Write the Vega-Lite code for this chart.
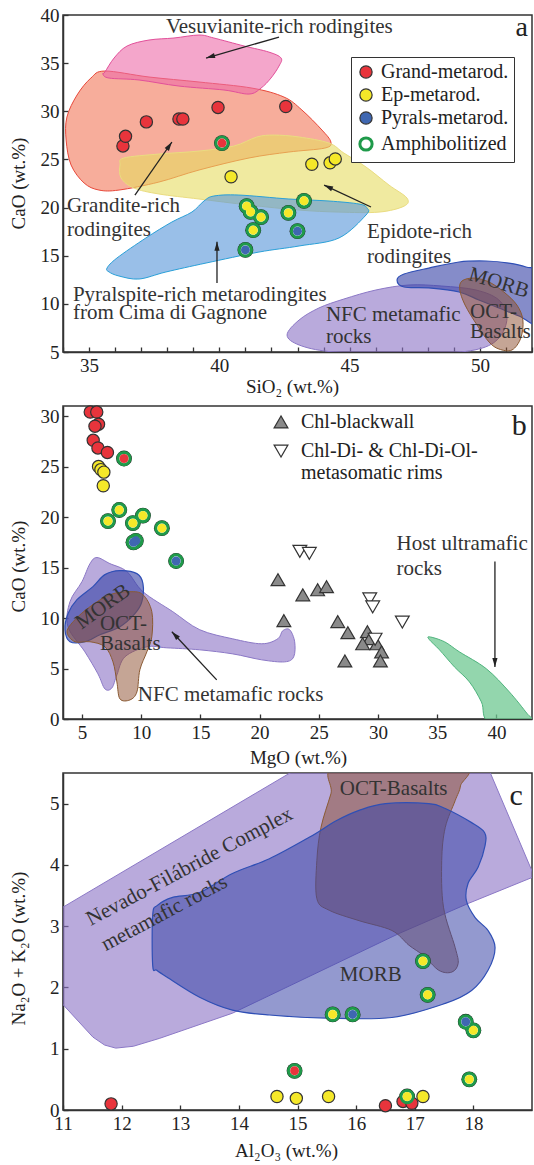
{
"$schema":"https://vega.github.io/schema/vega-lite/v6.json",
"background":"white",
"padding":{"left":8,"top":5,"right":2,"bottom":2},
"spacing":54,
"bounds":"flush",
"config":{
 "font":"Liberation Serif",
 "view":{"stroke":"#333","strokeWidth":1.5},
 "axis":{"grid":false,"domainColor":"#333","domainWidth":1.5,"tickColor":"#333","tickWidth":1.3,"tickSize":-5,"labelPadding":9,"labelFont":"Liberation Serif","labelFontSize":19,"labelColor":"#222","titleFont":"Liberation Serif","titleFontSize":19,"titleFontWeight":"normal","titleColor":"#222","labelFlush":false,"labelOverlap":false},
 "legend":{"labelFont":"Liberation Serif","labelFontSize":20,"labelColor":"#222","labelLimit":300}
},
"resolve":{"scale":{"fill":"independent","stroke":"independent","strokeWidth":"independent","color":"independent","shape":"independent"},"legend":{"fill":"independent","stroke":"independent","strokeWidth":"independent","color":"independent","shape":"independent"}},
"datasets":{
 "pa":[
  {"s":"gra","i":0,"x":35.61,"y":34.18},{"s":"gra","i":1,"x":37.3,"y":33.56},{"s":"gra","i":2,"x":39.22,"y":33.04},{"s":"gra","i":3,"x":41.25,"y":32.41},{"s":"gra","i":4,"x":42.48,"y":31.48},{"s":"gra","i":5,"x":43.17,"y":30.13},{"s":"gra","i":6,"x":43.94,"y":28.05},{"s":"gra","i":7,"x":44.28,"y":26.81},{"s":"gra","i":8,"x":44.05,"y":26.18},{"s":"gra","i":9,"x":42.67,"y":25.77},{"s":"gra","i":10,"x":41.14,"y":25.15},{"s":"gra","i":11,"x":39.22,"y":23.9},{"s":"gra","i":12,"x":37.68,"y":22.65},{"s":"gra","i":13,"x":36.15,"y":21.82},{"s":"gra","i":14,"x":35.38,"y":21.82},{"s":"gra","i":15,"x":34.81,"y":22.55},{"s":"gra","i":16,"x":34.31,"y":24.42},{"s":"gra","i":17,"x":34.12,"y":27.01},{"s":"gra","i":18,"x":34.15,"y":29.4},{"s":"gra","i":19,"x":34.54,"y":31.69},{"s":"gra","i":20,"x":35.07,"y":33.45},
  {"s":"ves","i":0,"x":35.61,"y":34.08},{"s":"ves","i":1,"x":35.96,"y":35.53},{"s":"ves","i":2,"x":36.46,"y":36.78},{"s":"ves","i":3,"x":37.3,"y":37.4},{"s":"ves","i":4,"x":38.26,"y":37.61},{"s":"ves","i":5,"x":39.22,"y":37.92},{"s":"ves","i":6,"x":39.79,"y":37.61},{"s":"ves","i":7,"x":40.95,"y":36.78},{"s":"ves","i":8,"x":41.9,"y":36.15},{"s":"ves","i":9,"x":42.37,"y":35.53},{"s":"ves","i":10,"x":42.29,"y":34.7},{"s":"ves","i":11,"x":41.98,"y":33.45},{"s":"ves","i":12,"x":41.6,"y":32.41},{"s":"ves","i":13,"x":41.14,"y":31.79},{"s":"ves","i":14,"x":40.18,"y":32.21},{"s":"ves","i":15,"x":38.45,"y":32.62},{"s":"ves","i":16,"x":36.92,"y":33.25},{"s":"ves","i":17,"x":35.77,"y":33.45},{"s":"ves","i":18,"x":35.53,"y":33.87},
  {"s":"epi","i":0,"x":36.34,"y":25.15},{"s":"epi","i":1,"x":37.68,"y":25.56},{"s":"epi","i":2,"x":39.22,"y":25.87},{"s":"epi","i":3,"x":40.56,"y":26.39},{"s":"epi","i":4,"x":41.44,"y":27.33},{"s":"epi","i":5,"x":42.1,"y":27.53},{"s":"epi","i":6,"x":43.06,"y":27.33},{"s":"epi","i":7,"x":44.21,"y":26.7},{"s":"epi","i":8,"x":44.78,"y":25.66},{"s":"epi","i":9,"x":45.63,"y":24.21},{"s":"epi","i":10,"x":46.51,"y":22.34},{"s":"epi","i":11,"x":47.2,"y":20.99},{"s":"epi","i":12,"x":47.09,"y":20.15},{"s":"epi","i":13,"x":46.13,"y":19.53},{"s":"epi","i":14,"x":44.59,"y":19.53},{"s":"epi","i":15,"x":43.06,"y":19.74},{"s":"epi","i":16,"x":41.14,"y":20.26},{"s":"epi","i":17,"x":39.22,"y":20.89},{"s":"epi","i":18,"x":37.68,"y":21.41},{"s":"epi","i":19,"x":36.72,"y":22.03},{"s":"epi","i":20,"x":36.23,"y":23.07},{"s":"epi","i":21,"x":36.19,"y":24.42},
  {"s":"pyr","i":0,"x":35.69,"y":13.72},{"s":"pyr","i":1,"x":36.07,"y":14.76},{"s":"pyr","i":2,"x":37.18,"y":16.84},{"s":"pyr","i":3,"x":38.18,"y":18.5},{"s":"pyr","i":4,"x":38.95,"y":19.54},{"s":"pyr","i":5,"x":39.41,"y":20.68},{"s":"pyr","i":6,"x":39.79,"y":21.2},{"s":"pyr","i":7,"x":40.75,"y":21.3},{"s":"pyr","i":8,"x":42.67,"y":20.89},{"s":"pyr","i":9,"x":44.21,"y":20.68},{"s":"pyr","i":10,"x":45.36,"y":20.37},{"s":"pyr","i":11,"x":45.67,"y":19.95},{"s":"pyr","i":12,"x":45.63,"y":19.23},{"s":"pyr","i":13,"x":44.59,"y":16.84},{"s":"pyr","i":14,"x":43.06,"y":16.01},{"s":"pyr","i":15,"x":41.52,"y":15.38},{"s":"pyr","i":16,"x":39.49,"y":14.24},{"s":"pyr","i":17,"x":37.95,"y":13.31},{"s":"pyr","i":18,"x":36.92,"y":12.58},{"s":"pyr","i":19,"x":36.15,"y":12.89},{"s":"pyr","i":20,"x":35.77,"y":13.31},
  {"s":"nfc","i":0,"x":42.6,"y":6.77},{"s":"nfc","i":1,"x":43.06,"y":8.32},{"s":"nfc","i":2,"x":43.82,"y":9.57},{"s":"nfc","i":3,"x":44.78,"y":10.5},{"s":"nfc","i":4,"x":46.01,"y":11.44},{"s":"nfc","i":5,"x":47.28,"y":11.96},{"s":"nfc","i":6,"x":48.54,"y":11.85},{"s":"nfc","i":7,"x":49.85,"y":11.44},{"s":"nfc","i":8,"x":50.73,"y":10.4},{"s":"nfc","i":9,"x":51.04,"y":8.53},{"s":"nfc","i":10,"x":50.73,"y":6.45},{"s":"nfc","i":11,"x":49.96,"y":5.31},{"s":"nfc","i":12,"x":48.43,"y":4.85},{"s":"nfc","i":13,"x":46.13,"y":4.85},{"s":"nfc","i":14,"x":44.21,"y":5.05},{"s":"nfc","i":15,"x":43.06,"y":5.73},
  {"s":"morb","i":0,"x":46.82,"y":12.48},{"s":"morb","i":1,"x":47.09,"y":13.1},{"s":"morb","i":2,"x":48.04,"y":13.72},{"s":"morb","i":3,"x":49.2,"y":14.35},{"s":"morb","i":4,"x":50.23,"y":14.45},{"s":"morb","i":5,"x":51.11,"y":14.24},{"s":"morb","i":6,"x":51.77,"y":13.83},{"s":"morb","i":7,"x":52.3,"y":13.1},{"s":"morb","i":8,"x":52.3,"y":8.0},{"s":"morb","i":9,"x":51.5,"y":8.74},{"s":"morb","i":10,"x":50.73,"y":9.57},{"s":"morb","i":11,"x":49.96,"y":10.4},{"s":"morb","i":12,"x":49.2,"y":11.23},{"s":"morb","i":13,"x":48.04,"y":11.65},{"s":"morb","i":14,"x":47.09,"y":11.75},
  {"s":"oct","i":0,"x":49.31,"y":12.37},{"s":"oct","i":1,"x":49.77,"y":12.68},{"s":"oct","i":2,"x":50.35,"y":12.27},{"s":"oct","i":3,"x":50.92,"y":11.23},{"s":"oct","i":4,"x":51.42,"y":9.88},{"s":"oct","i":5,"x":51.65,"y":8.32},{"s":"oct","i":6,"x":51.57,"y":6.45},{"s":"oct","i":7,"x":51.23,"y":5.21},{"s":"oct","i":8,"x":50.73,"y":5.31},{"s":"oct","i":9,"x":50.35,"y":6.04},{"s":"oct","i":10,"x":49.89,"y":7.8},{"s":"oct","i":11,"x":49.43,"y":9.88},{"s":"oct","i":12,"x":49.23,"y":11.44}
 ],
 "pta":[
  {"x":36.3,"y":26.4,"type":"Grand-metarod.","leg":"Grand-metarod."},{"x":36.4,"y":27.4,"type":"Grand-metarod.","leg":"Grand-metarod."},{"x":37.2,"y":28.9,"type":"Grand-metarod.","leg":"Grand-metarod."},{"x":38.45,"y":29.2,"type":"Grand-metarod.","leg":"Grand-metarod."},{"x":38.6,"y":29.2,"type":"Grand-metarod.","leg":"Grand-metarod."},{"x":39.95,"y":30.4,"type":"Grand-metarod.","leg":"Grand-metarod."},{"x":42.55,"y":30.5,"type":"Grand-metarod.","leg":"Grand-metarod."},
  {"x":40.1,"y":26.7,"type":"Grand-metarod.","leg":"Amphibolitized"},
  {"x":40.45,"y":23.2,"type":"Ep-metarod.","leg":"Ep-metarod."},{"x":43.55,"y":24.5,"type":"Ep-metarod.","leg":"Ep-metarod."},{"x":44.25,"y":24.65,"type":"Ep-metarod.","leg":"Ep-metarod."},{"x":44.45,"y":25.05,"type":"Ep-metarod.","leg":"Ep-metarod."},
  {"x":41.05,"y":20.15,"type":"Ep-metarod.","leg":"Amphibolitized"},{"x":41.2,"y":19.55,"type":"Ep-metarod.","leg":"Amphibolitized"},{"x":41.6,"y":19.0,"type":"Ep-metarod.","leg":"Amphibolitized"},{"x":41.3,"y":17.65,"type":"Ep-metarod.","leg":"Amphibolitized"},{"x":42.65,"y":19.45,"type":"Ep-metarod.","leg":"Amphibolitized"},{"x":43.25,"y":20.7,"type":"Ep-metarod.","leg":"Amphibolitized"},
  {"x":41.0,"y":15.6,"type":"Pyrals-metarod.","leg":"Amphibolitized"},{"x":43.0,"y":17.55,"type":"Pyrals-metarod.","leg":"Amphibolitized"}
 ],
 "ta":[
  {"k":"n","x":37.95,"y":38.75,"t":"Vesuvianite-rich rodingites"},
  {"k":"n","x":34.15,"y":20.16,"t":"Grandite-rich"},
  {"k":"n","x":34.15,"y":17.67,"t":"rodingites"},
  {"k":"n","x":45.67,"y":17.46,"t":"Epidote-rich"},
  {"k":"n","x":45.67,"y":14.86,"t":"rodingites"},
  {"k":"n","x":34.38,"y":10.92,"t":"Pyralspite-rich metarodingites"},
  {"k":"n","x":34.38,"y":9.05,"t":"from Cima di Gagnone"},
  {"k":"n","x":44.09,"y":8.84,"t":"NFC metamafic"},
  {"k":"n","x":44.09,"y":6.56,"t":"rocks"},
  {"k":"n","x":49.62,"y":9.15,"t":"OCT-"},
  {"k":"n","x":49.62,"y":7.08,"t":"Basalts"},
  {"k":"m","x":50.73,"y":12.17,"t":"MORB"},
  {"k":"p","x":51.61,"y":38.64,"t":"a"}
 ],
 "aa":[
  {"id":1,"x":42.29,"y":37.71,"x2":39.49,"y2":35.53},
  {"id":2,"x":36.76,"y":21.3,"x2":38.18,"y2":26.81},
  {"id":3,"x":45.82,"y":20.06,"x2":44.02,"y2":22.34},
  {"id":4,"x":39.91,"y":12.17,"x2":39.91,"y2":16.45}
 ],
 "pb":[
  {"s":"nfc","i":0,"x":6.27,"y":15.99},{"s":"nfc","i":1,"x":7.36,"y":15.39},{"s":"nfc","i":2,"x":8.8,"y":14.6},{"s":"nfc","i":3,"x":10.15,"y":12.61},{"s":"nfc","i":4,"x":12.67,"y":10.63},{"s":"nfc","i":5,"x":14.95,"y":8.84},{"s":"nfc","i":6,"x":17.73,"y":7.94},{"s":"nfc","i":7,"x":20.18,"y":7.45},{"s":"nfc","i":8,"x":21.53,"y":7.94},{"s":"nfc","i":9,"x":21.95,"y":8.74},{"s":"nfc","i":10,"x":22.54,"y":8.84},{"s":"nfc","i":11,"x":22.96,"y":7.65},{"s":"nfc","i":12,"x":22.88,"y":6.16},{"s":"nfc","i":13,"x":22.12,"y":5.66},{"s":"nfc","i":14,"x":20.18,"y":5.86},{"s":"nfc","i":15,"x":17.73,"y":6.45},{"s":"nfc","i":16,"x":14.95,"y":6.85},{"s":"nfc","i":17,"x":12.17,"y":7.05},{"s":"nfc","i":18,"x":10.48,"y":7.15},{"s":"nfc","i":19,"x":8.63,"y":6.16},{"s":"nfc","i":20,"x":7.95,"y":4.37},{"s":"nfc","i":21,"x":7.53,"y":3.08},{"s":"nfc","i":22,"x":6.94,"y":2.98},{"s":"nfc","i":23,"x":6.35,"y":4.47},{"s":"nfc","i":24,"x":5.25,"y":6.65},{"s":"nfc","i":25,"x":3.82,"y":9.14},{"s":"nfc","i":26,"x":3.99,"y":11.62},{"s":"nfc","i":27,"x":5.0,"y":13.6},{"s":"nfc","i":28,"x":5.68,"y":15.39},
  {"s":"morb","i":0,"x":3.57,"y":8.84},{"s":"morb","i":1,"x":3.82,"y":10.43},{"s":"morb","i":2,"x":4.58,"y":11.82},{"s":"morb","i":3,"x":5.93,"y":13.11},{"s":"morb","i":4,"x":6.94,"y":14.3},{"s":"morb","i":5,"x":8.21,"y":14.7},{"s":"morb","i":6,"x":9.64,"y":14.4},{"s":"morb","i":7,"x":10.15,"y":13.41},{"s":"morb","i":8,"x":10.06,"y":11.62},{"s":"morb","i":9,"x":9.47,"y":10.43},{"s":"morb","i":10,"x":8.21,"y":9.14},{"s":"morb","i":11,"x":6.52,"y":8.34},{"s":"morb","i":12,"x":5.25,"y":7.65},{"s":"morb","i":13,"x":3.99,"y":7.65},
  {"s":"oct","i":0,"x":3.74,"y":8.64},{"s":"oct","i":1,"x":4.41,"y":9.83},{"s":"oct","i":2,"x":5.68,"y":11.12},{"s":"oct","i":3,"x":7.36,"y":12.31},{"s":"oct","i":4,"x":9.05,"y":12.61},{"s":"oct","i":5,"x":10.15,"y":12.31},{"s":"oct","i":6,"x":10.9,"y":10.63},{"s":"oct","i":7,"x":10.9,"y":8.14},{"s":"oct","i":8,"x":10.48,"y":6.65},{"s":"oct","i":9,"x":9.89,"y":4.87},{"s":"oct","i":10,"x":9.64,"y":2.68},{"s":"oct","i":11,"x":9.05,"y":1.89},{"s":"oct","i":12,"x":8.21,"y":1.99},{"s":"oct","i":13,"x":7.95,"y":3.67},{"s":"oct","i":14,"x":7.62,"y":5.66},{"s":"oct","i":15,"x":6.94,"y":7.15},{"s":"oct","i":16,"x":5.68,"y":7.65},{"s":"oct","i":17,"x":4.41,"y":7.65},
  {"s":"host","i":0,"x":34.34,"y":8.14},{"s":"host","i":1,"x":35.61,"y":7.65},{"s":"host","i":2,"x":36.87,"y":6.65},{"s":"host","i":3,"x":39.15,"y":4.97},{"s":"host","i":4,"x":41.09,"y":2.68},{"s":"host","i":5,"x":42.61,"y":0.5},{"s":"host","i":6,"x":43.1,"y":-0.3},{"s":"host","i":7,"x":39.4,"y":-0.3},{"s":"host","i":8,"x":38.73,"y":1.69},{"s":"host","i":9,"x":37.72,"y":3.67},{"s":"host","i":10,"x":36.45,"y":5.16},{"s":"host","i":11,"x":35.19,"y":6.85},{"s":"host","i":12,"x":34.34,"y":7.85}
 ],
 "ptb":[
  {"x":5.7,"y":30.4,"type":"Grand-metarod.","leg":"Grand-metarod."},{"x":6.25,"y":30.4,"type":"Grand-metarod.","leg":"Grand-metarod."},{"x":6.4,"y":29.2,"type":"Grand-metarod.","leg":"Grand-metarod."},{"x":6.1,"y":29.0,"type":"Grand-metarod.","leg":"Grand-metarod."},{"x":5.95,"y":27.6,"type":"Grand-metarod.","leg":"Grand-metarod."},{"x":6.35,"y":26.85,"type":"Grand-metarod.","leg":"Grand-metarod."},{"x":7.15,"y":26.4,"type":"Grand-metarod.","leg":"Grand-metarod."},
  {"x":8.55,"y":25.8,"type":"Grand-metarod.","leg":"Amphibolitized"},
  {"x":6.4,"y":25.0,"type":"Ep-metarod.","leg":"Ep-metarod."},{"x":6.6,"y":24.7,"type":"Ep-metarod.","leg":"Ep-metarod."},{"x":6.85,"y":24.45,"type":"Ep-metarod.","leg":"Ep-metarod."},{"x":6.8,"y":23.1,"type":"Ep-metarod.","leg":"Ep-metarod."},
  {"x":7.2,"y":19.6,"type":"Ep-metarod.","leg":"Amphibolitized"},{"x":8.15,"y":20.7,"type":"Ep-metarod.","leg":"Amphibolitized"},{"x":9.3,"y":19.4,"type":"Ep-metarod.","leg":"Amphibolitized"},{"x":10.15,"y":20.15,"type":"Ep-metarod.","leg":"Amphibolitized"},{"x":11.75,"y":18.9,"type":"Ep-metarod.","leg":"Amphibolitized"},
  {"x":9.55,"y":17.65,"type":"Pyrals-metarod.","leg":"Amphibolitized"},{"x":9.35,"y":17.5,"type":"Pyrals-metarod.","leg":"Amphibolitized"},{"x":12.95,"y":15.65,"type":"Pyrals-metarod.","leg":"Amphibolitized"}
 ],
 "trb":[
  {"g":"Chl-blackwall","x":21.55,"y":13.8},{"g":"Chl-blackwall","x":22.05,"y":9.75},{"g":"Chl-blackwall","x":23.65,"y":12.3},{"g":"Chl-blackwall","x":24.9,"y":12.8},{"g":"Chl-blackwall","x":25.65,"y":13.1},{"g":"Chl-blackwall","x":26.6,"y":9.65},{"g":"Chl-blackwall","x":27.45,"y":8.55},{"g":"Chl-blackwall","x":27.2,"y":5.75},{"g":"Chl-blackwall","x":29.1,"y":8.65},{"g":"Chl-blackwall","x":29.3,"y":7.95},{"g":"Chl-blackwall","x":28.7,"y":7.45},{"g":"Chl-blackwall","x":29.9,"y":7.45},{"g":"Chl-blackwall","x":30.3,"y":6.65},{"g":"Chl-blackwall","x":30.2,"y":5.75},
  {"g":"Chl-Di","x":23.4,"y":16.6},{"g":"Chl-Di","x":24.2,"y":16.4},{"g":"Chl-Di","x":29.3,"y":11.9},{"g":"Chl-Di","x":29.55,"y":11.1},{"g":"Chl-Di","x":32.05,"y":9.6},{"g":"Chl-Di","x":29.75,"y":7.9}
 ],
 "tb":[
  {"k":"n","x":31.56,"y":17.38,"t":"Host ultramafic"},
  {"k":"n","x":31.56,"y":14.9,"t":"rocks"},
  {"k":"n","x":9.72,"y":2.38,"t":"NFC metamafic rocks"},
  {"k":"n","x":6.52,"y":9.43,"t":"OCT-"},
  {"k":"n","x":6.52,"y":7.45,"t":"Basalts"},
  {"k":"m","x":6.77,"y":11.12,"t":"MORB"},
  {"k":"p","x":41.93,"y":29.0,"t":"b"}
 ],
 "ab":[
  {"id":5,"x":39.87,"y":15.59,"x2":39.87,"y2":5.16},
  {"id":6,"x":16.38,"y":3.87,"x2":12.59,"y2":8.64}
 ],
 "pc":[
  {"s":"nfc","i":0,"x":10.61,"y":3.09},{"s":"nfc","i":1,"x":15.03,"y":5.59},{"s":"nfc","i":2,"x":18.25,"y":5.59},{"s":"nfc","i":3,"x":19.04,"y":3.81},{"s":"nfc","i":4,"x":17.91,"y":3.37},{"s":"nfc","i":5,"x":16.73,"y":2.88},{"s":"nfc","i":6,"x":13.89,"y":1.58},{"s":"nfc","i":7,"x":12.65,"y":1.17},{"s":"nfc","i":8,"x":12.2,"y":1.04},{"s":"nfc","i":9,"x":11.9,"y":1.01},{"s":"nfc","i":10,"x":11.71,"y":1.06},{"s":"nfc","i":11,"x":11.51,"y":1.19},{"s":"nfc","i":12,"x":10.78,"y":1.95},
  {"s":"morb","i":0,"x":12.53,"y":2.36},{"s":"morb","i":1,"x":12.53,"y":3.18},{"s":"morb","i":2,"x":12.61,"y":3.34},{"s":"morb","i":3,"x":12.87,"y":3.47},{"s":"morb","i":4,"x":13.33,"y":3.55},{"s":"morb","i":5,"x":13.89,"y":3.86},{"s":"morb","i":6,"x":14.52,"y":4.1},{"s":"morb","i":7,"x":15.2,"y":4.45},{"s":"morb","i":8,"x":15.66,"y":4.72},{"s":"morb","i":9,"x":16.05,"y":4.89},{"s":"morb","i":10,"x":16.5,"y":5.0},{"s":"morb","i":11,"x":17.24,"y":5.0},{"s":"morb","i":12,"x":17.52,"y":4.92},{"s":"morb","i":13,"x":17.97,"y":4.69},{"s":"morb","i":14,"x":18.19,"y":4.53},{"s":"morb","i":15,"x":18.2,"y":4.32},{"s":"morb","i":16,"x":18.08,"y":3.96},{"s":"morb","i":17,"x":17.91,"y":3.7},{"s":"morb","i":18,"x":17.88,"y":3.42},{"s":"morb","i":19,"x":18.03,"y":3.14},{"s":"morb","i":20,"x":18.25,"y":2.93},{"s":"morb","i":21,"x":18.37,"y":2.65},{"s":"morb","i":22,"x":18.25,"y":2.28},{"s":"morb","i":23,"x":17.97,"y":1.95},{"s":"morb","i":24,"x":17.52,"y":1.74},{"s":"morb","i":25,"x":16.61,"y":1.51},{"s":"morb","i":26,"x":15.49,"y":1.5},{"s":"morb","i":27,"x":14.52,"y":1.55},{"s":"morb","i":28,"x":13.89,"y":1.63},{"s":"morb","i":29,"x":13.33,"y":1.84},{"s":"morb","i":30,"x":12.77,"y":2.17},{"s":"morb","i":31,"x":12.6,"y":2.28},
  {"s":"oct","i":0,"x":15.71,"y":5.62},{"s":"oct","i":1,"x":17.78,"y":5.62},{"s":"oct","i":2,"x":17.78,"y":5.29},{"s":"oct","i":3,"x":17.69,"y":5.05},{"s":"oct","i":4,"x":17.52,"y":4.61},{"s":"oct","i":5,"x":17.46,"y":4.07},{"s":"oct","i":6,"x":17.49,"y":3.31},{"s":"oct","i":7,"x":17.69,"y":2.65},{"s":"oct","i":8,"x":17.74,"y":2.39},{"s":"oct","i":9,"x":17.63,"y":2.25},{"s":"oct","i":10,"x":17.41,"y":2.28},{"s":"oct","i":11,"x":17.15,"y":2.52},{"s":"oct","i":12,"x":16.9,"y":2.69},{"s":"oct","i":13,"x":16.61,"y":2.93},{"s":"oct","i":14,"x":16.05,"y":3.09},{"s":"oct","i":15,"x":15.54,"y":3.26},{"s":"oct","i":16,"x":15.33,"y":3.45},{"s":"oct","i":17,"x":15.33,"y":4.07},{"s":"oct","i":18,"x":15.4,"y":4.61},{"s":"oct","i":19,"x":15.57,"y":5.16}
 ],
 "ptc":[
  {"x":11.82,"y":0.1,"type":"Grand-metarod.","leg":"Grand-metarod."},{"x":16.5,"y":0.07,"type":"Grand-metarod.","leg":"Grand-metarod."},{"x":16.8,"y":0.14,"type":"Grand-metarod.","leg":"Grand-metarod."},{"x":16.95,"y":0.11,"type":"Grand-metarod.","leg":"Grand-metarod."},
  {"x":14.95,"y":0.64,"type":"Grand-metarod.","leg":"Amphibolitized"},
  {"x":14.65,"y":0.22,"type":"Ep-metarod.","leg":"Ep-metarod."},{"x":14.98,"y":0.19,"type":"Ep-metarod.","leg":"Ep-metarod."},{"x":15.53,"y":0.22,"type":"Ep-metarod.","leg":"Ep-metarod."},{"x":17.14,"y":0.22,"type":"Ep-metarod.","leg":"Ep-metarod."},
  {"x":16.87,"y":0.22,"type":"Ep-metarod.","leg":"Amphibolitized"},{"x":17.93,"y":0.5,"type":"Ep-metarod.","leg":"Amphibolitized"},{"x":18.0,"y":1.3,"type":"Ep-metarod.","leg":"Amphibolitized"},{"x":17.22,"y":1.88,"type":"Ep-metarod.","leg":"Amphibolitized"},{"x":17.14,"y":2.43,"type":"Ep-metarod.","leg":"Amphibolitized"},{"x":15.6,"y":1.56,"type":"Ep-metarod.","leg":"Amphibolitized"},
  {"x":15.94,"y":1.56,"type":"Pyrals-metarod.","leg":"Amphibolitized"},{"x":17.87,"y":1.44,"type":"Pyrals-metarod.","leg":"Amphibolitized"}
 ],
 "tc":[
  {"k":"n","x":16.64,"y":5.24,"t":"OCT-Basalts"},
  {"k":"n","x":16.25,"y":2.2,"t":"MORB"},
  {"k":"r","x":13.16,"y":3.97,"t":"Nevado-Filábride Complex"},
  {"k":"r","x":12.73,"y":3.21,"t":"metamafic rocks"},
  {"k":"p","x":18.73,"y":5.13,"t":"c"}
 ]
},
"vconcat":[
 {
  "width":469,"height":337,
  "encoding":{
   "x":{"field":"x","type":"quantitative","scale":{"domain":[34,52],"nice":false,"zero":false},"axis":{"values":[34,35,36,37,38,39,40,41,42,43,44,45,46,47,48,49,50,51,52],"labelExpr":"datum.value % 5 === 0 ? datum.label : ''","title":"SiO₂ (wt.%)","titleX":229,"titleY":34,"titleBaseline":"middle"}},
   "y":{"field":"y","type":"quantitative","scale":{"domain":[5,40],"nice":false,"zero":false},"axis":{"values":[5,10,15,20,25,30,35,40],"title":"CaO (wt.%)","titleX":-45,"titleY":168,"titleBaseline":"middle"}}
  },
  "layer":[
   {"data":{"name":"pa"},"transform":[{"filter":"datum.s==='gra'"}],"mark":{"type":"line","interpolate":"cardinal-closed","fill":"#f06a48","fillOpacity":0.55,"stroke":"#e8483a","strokeWidth":1,"clip":true},"encoding":{"order":{"field":"i","type":"quantitative"}}},
   {"data":{"name":"pa"},"transform":[{"filter":"datum.s==='ves'"}],"mark":{"type":"line","interpolate":"cardinal-closed","fill":"#ec6aa8","fillOpacity":0.6,"stroke":"#e2509a","strokeWidth":1,"clip":true},"encoding":{"order":{"field":"i","type":"quantitative"}}},
   {"data":{"name":"pa"},"transform":[{"filter":"datum.s==='epi'"}],"mark":{"type":"line","interpolate":"cardinal-closed","fill":"#e6dc60","fillOpacity":0.6,"stroke":"#eadc80","strokeWidth":1,"clip":true},"encoding":{"order":{"field":"i","type":"quantitative"}}},
   {"data":{"name":"pa"},"transform":[{"filter":"datum.s==='pyr'"}],"mark":{"type":"line","interpolate":"cardinal-closed","fill":"#5a98da","fillOpacity":0.62,"stroke":"#2aa0d8","strokeWidth":1,"clip":true},"encoding":{"order":{"field":"i","type":"quantitative"}}},
   {"data":{"name":"pa"},"transform":[{"filter":"datum.s==='nfc'"}],"mark":{"type":"line","interpolate":"cardinal-closed","fill":"#8a72c4","fillOpacity":0.6,"stroke":"#8b78c6","strokeWidth":1,"clip":true},"encoding":{"order":{"field":"i","type":"quantitative"}}},
   {"data":{"name":"pa"},"transform":[{"filter":"datum.s==='morb'"}],"mark":{"type":"line","interpolate":"cardinal-closed","fill":"#3a45a8","fillOpacity":0.62,"stroke":"#2f4fb5","strokeWidth":1.2,"clip":true},"encoding":{"order":{"field":"i","type":"quantitative"}}},
   {"data":{"name":"pa"},"transform":[{"filter":"datum.s==='oct'"}],"mark":{"type":"line","interpolate":"cardinal-closed","fill":"#8c4b2c","fillOpacity":0.5,"stroke":"#8a5a33","strokeWidth":1,"clip":true},"encoding":{"order":{"field":"i","type":"quantitative"}}},
   {"data":{"name":"aa"},"mark":{"type":"rule","color":"#222","strokeWidth":1.3},"encoding":{"x2":{"field":"x2"},"y2":{"field":"y2"}}},
   {"data":{"name":"aa"},"transform":[{"filter":"datum.id===1"}],"mark":{"type":"point","shape":"M0,0L2.6,9L-2.6,9Z","size":4,"angle":254,"filled":true,"fill":"#222","strokeWidth":0,"opacity":1},"encoding":{"x":{"field":"x2","type":"quantitative"},"y":{"field":"y2","type":"quantitative"}}},
   {"data":{"name":"aa"},"transform":[{"filter":"datum.id===2"}],"mark":{"type":"point","shape":"M0,0L2.6,9L-2.6,9Z","size":4,"angle":34.6,"filled":true,"fill":"#222","strokeWidth":0,"opacity":1},"encoding":{"x":{"field":"x2","type":"quantitative"},"y":{"field":"y2","type":"quantitative"}}},
   {"data":{"name":"aa"},"transform":[{"filter":"datum.id===3"}],"mark":{"type":"point","shape":"M0,0L2.6,9L-2.6,9Z","size":4,"angle":295,"filled":true,"fill":"#222","strokeWidth":0,"opacity":1},"encoding":{"x":{"field":"x2","type":"quantitative"},"y":{"field":"y2","type":"quantitative"}}},
   {"data":{"name":"aa"},"transform":[{"filter":"datum.id===4"}],"mark":{"type":"point","shape":"M0,0L2.6,9L-2.6,9Z","size":4,"angle":0,"filled":true,"fill":"#222","strokeWidth":0,"opacity":1},"encoding":{"x":{"field":"x2","type":"quantitative"},"y":{"field":"y2","type":"quantitative"}}},
   {"data":{"name":"ta"},"transform":[{"filter":"datum.k==='n'"}],"mark":{"type":"text","align":"left","baseline":"middle","fontSize":21,"font":"Liberation Serif","color":"#333"},"encoding":{"text":{"field":"t"}}},
   {"data":{"name":"ta"},"transform":[{"filter":"datum.k==='m'"}],"mark":{"type":"text","align":"center","baseline":"middle","fontSize":21,"angle":17,"font":"Liberation Serif","color":"#333"},"encoding":{"text":{"field":"t"}}},
   {"data":{"name":"ta"},"transform":[{"filter":"datum.k==='p'"}],"mark":{"type":"text","align":"center","baseline":"middle","fontSize":28,"font":"Liberation Serif","color":"#222"},"encoding":{"text":{"field":"t"}}},
   {"data":{"name":"pta"},"transform":[{"filter":"datum.leg==='Amphibolitized'"}],"mark":{"type":"point","shape":"circle","filled":true,"fill":"#222","size":250,"strokeWidth":0,"opacity":1}},
   {"data":{"name":"pta"},"mark":{"type":"point","shape":"circle","filled":true,"size":150,"opacity":1},
    "encoding":{
     "fill":{"field":"leg","type":"nominal","scale":{"domain":["Grand-metarod.","Ep-metarod.","Pyrals-metarod.","Amphibolitized"],"range":["#e8343c","#f5e829","#3f67b1","#ffffff"]},"legend":{"orient":"none","legendX":288,"legendY":42,"title":null,"strokeColor":"#333","fillColor":"white","padding":5,"rowPadding":3,"labelOffset":5,"symbolSize":150,"symbolType":"circle","labelFont":"Liberation Serif","labelFontSize":20,"labelColor":"#222"}},
     "stroke":{"field":"leg","type":"nominal","scale":{"domain":["Grand-metarod.","Ep-metarod.","Pyrals-metarod.","Amphibolitized"],"range":["#333333","#333333","#333333","#1f9a4a"]},"legend":{"orient":"none","legendX":288,"legendY":42,"title":null,"strokeColor":"#333","fillColor":"white","padding":5,"rowPadding":3,"labelOffset":5,"symbolSize":150,"symbolType":"circle","labelFont":"Liberation Serif","labelFontSize":20,"labelColor":"#222"}},
     "strokeWidth":{"field":"leg","type":"nominal","scale":{"type":"ordinal","domain":["Grand-metarod.","Ep-metarod.","Pyrals-metarod.","Amphibolitized"],"range":[1.2,1.2,1.2,3]},"legend":{"orient":"none","legendX":288,"legendY":42,"title":null,"strokeColor":"#333","fillColor":"white","padding":5,"rowPadding":3,"labelOffset":5,"symbolSize":150,"symbolType":"circle","labelFont":"Liberation Serif","labelFontSize":20,"labelColor":"#222"}}
    }},
   {"data":{"name":"pta"},"transform":[{"filter":"datum.leg==='Amphibolitized'"}],"mark":{"type":"point","shape":"circle","filled":true,"size":80,"strokeWidth":0,"opacity":1},"encoding":{"color":{"field":"type","type":"nominal","scale":{"domain":["Grand-metarod.","Ep-metarod.","Pyrals-metarod."],"range":["#e8343c","#f5e829","#3f67b1"]},"legend":null}}}
  ]
 },
 {
  "width":469,"height":313,
  "resolve":{"scale":{"fill":"independent","shape":"independent","stroke":"independent"},"legend":{"fill":"independent","shape":"independent","stroke":"independent"}},
  "encoding":{
   "x":{"field":"x","type":"quantitative","scale":{"domain":[3.4,43],"nice":false,"zero":false},"axis":{"values":[5,10,15,20,25,30,35,40],"title":"MgO (wt.%)","titleX":235,"titleY":38,"titleBaseline":"middle"}},
   "y":{"field":"y","type":"quantitative","scale":{"domain":[0,31],"nice":false,"zero":false},"axis":{"values":[0,5,10,15,20,25,30],"title":"CaO (wt.%)","titleX":-45,"titleY":160,"titleBaseline":"middle"}}
  },
  "layer":[
   {"data":{"name":"pb"},"transform":[{"filter":"datum.s==='nfc'"}],"mark":{"type":"line","interpolate":"cardinal-closed","fill":"#8a72c4","fillOpacity":0.6,"stroke":"#8b78c6","strokeWidth":1,"clip":true},"encoding":{"order":{"field":"i","type":"quantitative"}}},
   {"data":{"name":"pb"},"transform":[{"filter":"datum.s==='morb'"}],"mark":{"type":"line","interpolate":"cardinal-closed","fill":"#3a45a8","fillOpacity":0.62,"stroke":"#2f4fb5","strokeWidth":1.2,"clip":true},"encoding":{"order":{"field":"i","type":"quantitative"}}},
   {"data":{"name":"pb"},"transform":[{"filter":"datum.s==='oct'"}],"mark":{"type":"line","interpolate":"cardinal-closed","fill":"#8c4b2c","fillOpacity":0.5,"stroke":"#8a5a33","strokeWidth":1,"clip":true},"encoding":{"order":{"field":"i","type":"quantitative"}}},
   {"data":{"name":"pb"},"transform":[{"filter":"datum.s==='host'"}],"mark":{"type":"line","interpolate":"cardinal-closed","fill":"#6fc891","fillOpacity":0.75,"stroke":"#4fb37d","strokeWidth":1,"clip":true},"encoding":{"order":{"field":"i","type":"quantitative"}}},
   {"data":{"name":"ab"},"mark":{"type":"rule","color":"#222","strokeWidth":1.3},"encoding":{"x2":{"field":"x2"},"y2":{"field":"y2"}}},
   {"data":{"name":"ab"},"transform":[{"filter":"datum.id===5"}],"mark":{"type":"point","shape":"M0,0L2.6,9L-2.6,9Z","size":4,"angle":180,"filled":true,"fill":"#222","strokeWidth":0,"opacity":1},"encoding":{"x":{"field":"x2","type":"quantitative"},"y":{"field":"y2","type":"quantitative"}}},
   {"data":{"name":"ab"},"transform":[{"filter":"datum.id===6"}],"mark":{"type":"point","shape":"M0,0L2.6,9L-2.6,9Z","size":4,"angle":316.8,"filled":true,"fill":"#222","strokeWidth":0,"opacity":1},"encoding":{"x":{"field":"x2","type":"quantitative"},"y":{"field":"y2","type":"quantitative"}}},
   {"data":{"name":"tb"},"transform":[{"filter":"datum.k==='n'"}],"mark":{"type":"text","align":"left","baseline":"middle","fontSize":21,"font":"Liberation Serif","color":"#333"},"encoding":{"text":{"field":"t"}}},
   {"data":{"name":"tb"},"transform":[{"filter":"datum.k==='m'"}],"mark":{"type":"text","align":"center","baseline":"middle","fontSize":21,"angle":-36,"font":"Liberation Serif","color":"#333"},"encoding":{"text":{"field":"t"}}},
   {"data":{"name":"tb"},"transform":[{"filter":"datum.k==='p'"}],"mark":{"type":"text","align":"center","baseline":"middle","fontSize":30,"font":"Liberation Serif","color":"#222"},"encoding":{"text":{"field":"t"}}},
   {"data":{"name":"trb"},"mark":{"type":"point","filled":true,"size":190,"strokeWidth":1.2,"opacity":1},
    "encoding":{
     "shape":{"field":"g","type":"nominal","scale":{"domain":["Chl-blackwall","Chl-Di"],"range":["triangle-up","triangle-down"]},"legend":{"orient":"none","legendX":208,"legendY":6,"title":null,"padding":0,"labelOffset":10,"symbolSize":190,"symbolStrokeWidth":1.2,"rowPadding":9,"labelFont":"Liberation Serif","labelFontSize":20,"labelColor":"#222","labelExpr":"datum.value === 'Chl-Di' ? ['Chl-Di- & Chl-Di-Ol-', 'metasomatic rims'] : datum.value"}},
     "fill":{"field":"g","type":"nominal","scale":{"domain":["Chl-blackwall","Chl-Di"],"range":["#8a8a8a","#ffffff"]},"legend":{"orient":"none","legendX":208,"legendY":6,"title":null,"padding":0,"labelOffset":10,"symbolSize":190,"symbolStrokeWidth":1.2,"rowPadding":9,"labelFont":"Liberation Serif","labelFontSize":20,"labelColor":"#222","labelExpr":"datum.value === 'Chl-Di' ? ['Chl-Di- & Chl-Di-Ol-', 'metasomatic rims'] : datum.value"}},
     "stroke":{"field":"g","type":"nominal","scale":{"domain":["Chl-blackwall","Chl-Di"],"range":["#333333","#333333"]},"legend":{"orient":"none","legendX":208,"legendY":6,"title":null,"padding":0,"labelOffset":10,"symbolSize":190,"symbolStrokeWidth":1.2,"rowPadding":9,"labelFont":"Liberation Serif","labelFontSize":20,"labelColor":"#222","labelExpr":"datum.value === 'Chl-Di' ? ['Chl-Di- & Chl-Di-Ol-', 'metasomatic rims'] : datum.value"}}
    }},
   {"data":{"name":"ptb"},"transform":[{"filter":"datum.leg==='Amphibolitized'"}],"mark":{"type":"point","shape":"circle","filled":true,"fill":"#222","size":250,"strokeWidth":0,"opacity":1}},
   {"data":{"name":"ptb"},"mark":{"type":"point","shape":"circle","filled":true,"size":150,"opacity":1},
    "encoding":{
     "fill":{"field":"leg","type":"nominal","scale":{"domain":["Grand-metarod.","Ep-metarod.","Pyrals-metarod.","Amphibolitized"],"range":["#e8343c","#f5e829","#3f67b1","#ffffff"]},"legend":null},
     "stroke":{"field":"leg","type":"nominal","scale":{"domain":["Grand-metarod.","Ep-metarod.","Pyrals-metarod.","Amphibolitized"],"range":["#333333","#333333","#333333","#1f9a4a"]},"legend":null},
     "strokeWidth":{"field":"leg","type":"nominal","scale":{"type":"ordinal","domain":["Grand-metarod.","Ep-metarod.","Pyrals-metarod.","Amphibolitized"],"range":[1.2,1.2,1.2,3]},"legend":null}
    }},
   {"data":{"name":"ptb"},"transform":[{"filter":"datum.leg==='Amphibolitized'"}],"mark":{"type":"point","shape":"circle","filled":true,"size":80,"strokeWidth":0,"opacity":1},"encoding":{"color":{"field":"type","type":"nominal","scale":{"domain":["Grand-metarod.","Ep-metarod.","Pyrals-metarod."],"range":["#e8343c","#f5e829","#3f67b1"]},"legend":null}}}
  ]
 },
 {
  "width":469,"height":337,
  "encoding":{
   "x":{"field":"x","type":"quantitative","scale":{"domain":[11,19],"nice":false,"zero":false},"axis":{"values":[11,12,13,14,15,16,17,18],"title":"Al₂O₃ (wt.%)","titleX":223,"titleY":40,"titleBaseline":"middle"}},
   "y":{"field":"y","type":"quantitative","scale":{"domain":[0,5.5],"nice":false,"zero":false},"axis":{"values":[0,1,2,3,4,5],"title":"Na₂O + K₂O (wt.%)","titleX":-45,"titleY":175,"titleBaseline":"middle"}}
  },
  "layer":[
   {"data":{"name":"pc"},"transform":[{"filter":"datum.s==='nfc'"}],"mark":{"type":"line","interpolate":"linear-closed","fill":"#8a72c4","fillOpacity":0.6,"stroke":"#8b78c6","strokeWidth":1,"clip":true},"encoding":{"order":{"field":"i","type":"quantitative"}}},
   {"data":{"name":"pc"},"transform":[{"filter":"datum.s==='oct'"}],"mark":{"type":"line","interpolate":"cardinal-closed","fill":"#8c4b2c","fillOpacity":0.5,"stroke":"#8a5a33","strokeWidth":1,"clip":true},"encoding":{"order":{"field":"i","type":"quantitative"}}},
   {"data":{"name":"pc"},"transform":[{"filter":"datum.s==='morb'"}],"mark":{"type":"line","interpolate":"cardinal-closed","fill":"#3a45a8","fillOpacity":0.55,"stroke":"#2f4fb5","strokeWidth":1.2,"clip":true},"encoding":{"order":{"field":"i","type":"quantitative"}}},
   {"data":{"name":"tc"},"transform":[{"filter":"datum.k==='n'"}],"mark":{"type":"text","align":"center","baseline":"middle","fontSize":21,"font":"Liberation Serif","color":"#333"},"encoding":{"text":{"field":"t"}}},
   {"data":{"name":"tc"},"transform":[{"filter":"datum.k==='r'"}],"mark":{"type":"text","align":"center","baseline":"middle","fontSize":21,"angle":-28,"font":"Liberation Serif","color":"#333"},"encoding":{"text":{"field":"t"}}},
   {"data":{"name":"tc"},"transform":[{"filter":"datum.k==='p'"}],"mark":{"type":"text","align":"center","baseline":"middle","fontSize":30,"font":"Liberation Serif","color":"#222"},"encoding":{"text":{"field":"t"}}},
   {"data":{"name":"ptc"},"transform":[{"filter":"datum.leg==='Amphibolitized'"}],"mark":{"type":"point","shape":"circle","filled":true,"fill":"#222","size":250,"strokeWidth":0,"opacity":1}},
   {"data":{"name":"ptc"},"mark":{"type":"point","shape":"circle","filled":true,"size":150,"opacity":1},
    "encoding":{
     "fill":{"field":"leg","type":"nominal","scale":{"domain":["Grand-metarod.","Ep-metarod.","Pyrals-metarod.","Amphibolitized"],"range":["#e8343c","#f5e829","#3f67b1","#ffffff"]},"legend":null},
     "stroke":{"field":"leg","type":"nominal","scale":{"domain":["Grand-metarod.","Ep-metarod.","Pyrals-metarod.","Amphibolitized"],"range":["#333333","#333333","#333333","#1f9a4a"]},"legend":null},
     "strokeWidth":{"field":"leg","type":"nominal","scale":{"type":"ordinal","domain":["Grand-metarod.","Ep-metarod.","Pyrals-metarod.","Amphibolitized"],"range":[1.2,1.2,1.2,3]},"legend":null}
    }},
   {"data":{"name":"ptc"},"transform":[{"filter":"datum.leg==='Amphibolitized'"}],"mark":{"type":"point","shape":"circle","filled":true,"size":80,"strokeWidth":0,"opacity":1},"encoding":{"color":{"field":"type","type":"nominal","scale":{"domain":["Grand-metarod.","Ep-metarod.","Pyrals-metarod."],"range":["#e8343c","#f5e829","#3f67b1"]},"legend":null}}}
  ]
 }
]
}
